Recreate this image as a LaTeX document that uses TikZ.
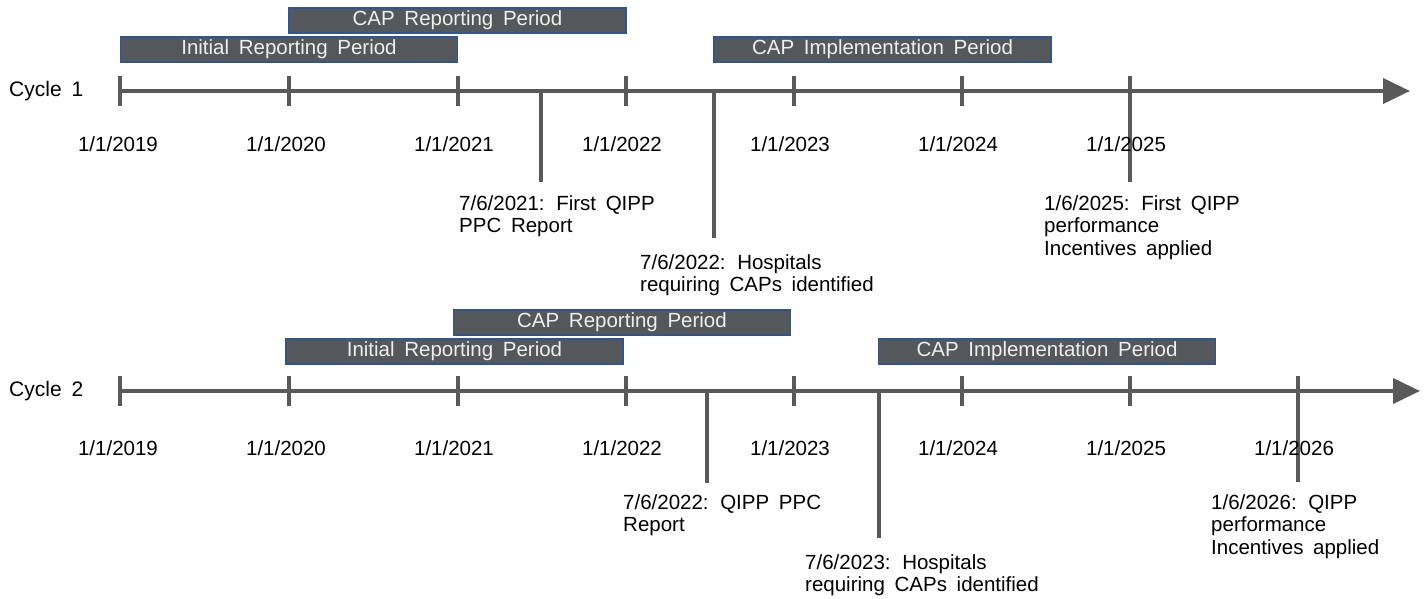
\documentclass[tikz,border=0pt]{standalone}
\usepackage{fontspec}
\setmainfont{Liberation Sans}[WordSpace=1.7]
\usetikzlibrary{arrows.meta}
\definecolor{axisgray}{HTML}{595959}
\definecolor{barfill}{HTML}{54585A}
\definecolor{barline}{HTML}{2F5597}
\definecolor{bartext}{HTML}{EEEEEE}
\tikzset{
  axisline/.style={line width=4pt, draw=axisgray, -{Triangle[length=27pt,width=25pt]}},
  tickline/.style={line width=4pt, draw=axisgray},
  periodbar/.style={draw=barline, line width=1.5pt, fill=barfill, text=bartext,
    minimum width=337pt, minimum height=25pt, inner sep=0pt, font=\fontsize{20.5}{22}\selectfont},
  yearlabel/.style={anchor=base, inner sep=0pt, font=\fontsize{20.5}{22}\selectfont},
  eventlabel/.style={anchor=north west, align=left, inner sep=0pt, font=\fontsize{20.5}{22.5}\selectfont},
  cyclelabel/.style={anchor=west, inner sep=0pt, font=\fontsize{21}{23}\selectfont}
}
\begin{document}
\begin{tikzpicture}[x=1pt, y=-1pt]
    \useasboundingbox (0,0) rectangle (1427,599);

    % cycle 1
    \node[cyclelabel] (cyc1) at (9,91) {Cycle 1};
    \coordinate (c1start) at (120,91);
    \coordinate (c1end) at (1410,91);
    \draw[axisline] (c1start) -- (c1end);

    \draw[tickline] (120,76) -- (120,106);
    \draw[tickline] (289,76) -- (289,106);
    \draw[tickline] (458,76) -- (458,106);
    \draw[tickline] (626,76) -- (626,106);
    \draw[tickline] (794,76) -- (794,106);
    \draw[tickline] (962,76) -- (962,106);
    \draw[tickline] (1130,76) -- (1130,182);

    \node[yearlabel] (c1y19) at (118,151) {1/1/2019};
    \node[yearlabel] (c1y20) at (286,151) {1/1/2020};
    \node[yearlabel] (c1y21) at (454,151) {1/1/2021};
    \node[yearlabel] (c1y22) at (622,151) {1/1/2022};
    \node[yearlabel] (c1y23) at (790,151) {1/1/2023};
    \node[yearlabel] (c1y24) at (958,151) {1/1/2024};
    \node[yearlabel] (c1y25) at (1126,151) {1/1/2025};

    \node[periodbar] (c1cap) at (457.5,20.5) {CAP Reporting Period};
    \node[periodbar] (c1init) at (289,49.5) {Initial Reporting Period};
    \node[periodbar] (c1impl) at (882.5,49.5) {CAP Implementation Period};

    \coordinate (c1e1) at (541,91);
    \coordinate (c1e1end) at (541,182);
    \coordinate (c1e2) at (714,91);
    \coordinate (c1e2end) at (714,238);
    \draw[tickline] (c1e1) -- (c1e1end);
    \draw[tickline] (c1e2) -- (c1e2end);

    \node[eventlabel] (c1ppc) at (459,195) {7/6/2021: First QIPP\\PPC Report};
    \node[eventlabel] (c1hosp) at (640,254) {7/6/2022: Hospitals\\requiring CAPs identified};
    \node[eventlabel] (c1inc) at (1044,195) {1/6/2025: First QIPP\\performance\\Incentives applied};

    % cycle 2
    \node[cyclelabel] (cyc2) at (9,391) {Cycle 2};
    \coordinate (c2start) at (120,391);
    \coordinate (c2end) at (1420,391);
    \draw[axisline] (c2start) -- (c2end);

    \draw[tickline] (120,376) -- (120,406);
    \draw[tickline] (289,376) -- (289,406);
    \draw[tickline] (458,376) -- (458,406);
    \draw[tickline] (626,376) -- (626,406);
    \draw[tickline] (794,376) -- (794,406);
    \draw[tickline] (962,376) -- (962,406);
    \draw[tickline] (1130,376) -- (1130,406);
    \draw[tickline] (1298,376) -- (1298,482);

    \node[yearlabel] (c2y19) at (118,455) {1/1/2019};
    \node[yearlabel] (c2y20) at (286,455) {1/1/2020};
    \node[yearlabel] (c2y21) at (454,455) {1/1/2021};
    \node[yearlabel] (c2y22) at (622,455) {1/1/2022};
    \node[yearlabel] (c2y23) at (790,455) {1/1/2023};
    \node[yearlabel] (c2y24) at (958,455) {1/1/2024};
    \node[yearlabel] (c2y25) at (1126,455) {1/1/2025};
    \node[yearlabel] (c2y26) at (1294,455) {1/1/2026};

    \node[periodbar] (c2cap) at (622,322.5) {CAP Reporting Period};
    \node[periodbar] (c2init) at (454.5,351.5) {Initial Reporting Period};
    \node[periodbar] (c2impl) at (1047,351.5) {CAP Implementation Period};

    \coordinate (c2e1) at (707,391);
    \coordinate (c2e1end) at (707,483);
    \coordinate (c2e2) at (879,391);
    \coordinate (c2e2end) at (879,538);
    \draw[tickline] (c2e1) -- (c2e1end);
    \draw[tickline] (c2e2) -- (c2e2end);

    \node[eventlabel] (c2ppc) at (623,494) {7/6/2022: QIPP PPC\\Report};
    \node[eventlabel] (c2hosp) at (805,554) {7/6/2023: Hospitals\\requiring CAPs identified};
    \node[eventlabel] (c2inc) at (1211,494) {1/6/2026: QIPP\\performance\\Incentives applied};
\end{tikzpicture}
\end{document}
